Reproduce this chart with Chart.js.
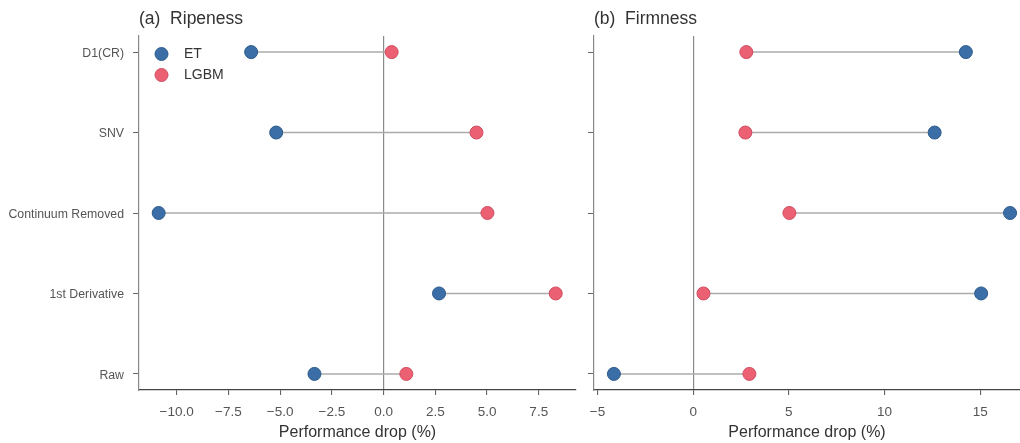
<!DOCTYPE html>
<html><head><meta charset="utf-8">
<script src="https://cdn.jsdelivr.net/npm/chart.js@4.4.1/dist/chart.umd.min.js"></script>
<style>
html,body{margin:0;padding:0;background:#fff;overflow:hidden;width:1020px;height:443px;position:relative}
#c1{position:absolute;left:0;top:0}
#c2{position:absolute;left:580px;top:0}
</style></head><body>
<canvas id="c1" width="580" height="443"></canvas>
<canvas id="c2" width="440" height="443"></canvas>
<script>
const categories = ['D1(CR)', 'SNV', 'Continuum Removed', '1st Derivative', 'Raw'];
const ripenessET   = [-6.40, -5.19, -10.87, 2.68, -3.34];
const ripenessLGBM = [0.39, 4.49, 5.02, 8.32, 1.10];
const firmnessET   = [14.25, 12.62, 16.56, 15.05, -4.14];
const firmnessLGBM = [2.78, 2.73, 5.03, 0.54, 2.94];
const ripenessTicks = [-10, -7.5, -5, -2.5, 0, 2.5, 5, 7.5];
const firmnessTicks = [-5, 0, 5, 10, 15];
const seriesNames = ['ET', 'LGBM'];

const FONT = '"Liberation Sans", Arial, Helvetica, sans-serif';
const ET_FILL = '#3b6ea6', ET_EDGE = '#2c5a8c';
const LG_FILL = '#ec6073', LG_EDGE = '#cf4b5e';

const legendPlugin = {
  id: 'innerLegend',
  afterDatasetsDraw(chart, args, opts) {
    if (!opts.show) return;
    const ctx = chart.ctx, a = chart.chartArea;
    const items = chart.data.datasets.filter(d => d.label);
    ctx.save();
    items.forEach((d, i) => {
      const cx = a.left + 22.5, cy = a.top + 18 + i * 21;
      ctx.beginPath();
      ctx.arc(cx, cy, 6.5, 0, Math.PI * 2);
      ctx.fillStyle = d.backgroundColor; ctx.fill();
      ctx.lineWidth = 1; ctx.strokeStyle = d.borderColor; ctx.stroke();
      ctx.fillStyle = '#333';
      ctx.font = '14px ' + FONT;
      ctx.textBaseline = 'middle';
      ctx.textAlign = 'left';
      ctx.fillText(d.label, a.left + 45, cy + 0.5);
    });
    ctx.restore();
  }
};

function fmtMinus(v, dec) {
  const s = dec ? Math.abs(v).toFixed(dec) : String(Math.abs(v));
  return (v < 0 ? '\u2212' : '') + s;
}

function makeChart(id, title, et, lgbm, xMin, xMax, xTicks, dec, showY, showLegend, yWidth, padRight) {
  const connectors = categories.map((c, i) => ({
    data: [{x: et[i], y: i}, {x: lgbm[i], y: i}],
    showLine: true, borderColor: '#ababab', borderWidth: 1.5,
    pointRadius: 0, pointHoverRadius: 0, order: 5
  }));
  const etDs = {
    label: seriesNames[0], data: et.map((v, i) => ({x: v, y: i})),
    backgroundColor: ET_FILL, borderColor: ET_EDGE, borderWidth: 1,
    pointRadius: 6.5, pointHoverRadius: 6.5, order: 2
  };
  const lgDs = {
    label: seriesNames[1], data: lgbm.map((v, i) => ({x: v, y: i})),
    backgroundColor: LG_FILL, borderColor: LG_EDGE, borderWidth: 1,
    pointRadius: 6.5, pointHoverRadius: 6.5, order: 1
  };
  return new Chart(document.getElementById(id), {
    type: 'scatter',
    data: {datasets: [...connectors, etDs, lgDs]},
    plugins: [legendPlugin],
    options: {
      responsive: false, animation: false,
      layout: {autoPadding: false, padding: {top: 0, right: padRight, left: 0, bottom: 0}},
      plugins: {
        legend: {display: false},
        tooltip: {enabled: false},
        innerLegend: {show: showLegend},
        title: {
          display: true, text: title, align: 'start', fullSize: false,
          color: '#333', font: {family: FONT, size: 17.5, weight: 'normal', lineHeight: 1.2},
          padding: {top: 8.5, bottom: 6.5}
        }
      },
      scales: {
        x: {
          type: 'linear', min: xMin, max: xMax,
          afterBuildTicks: s => { s.ticks = xTicks.map(v => ({value: v})); },
          afterFit: s => { s.height = 53; },
          ticks: {
            color: '#555', font: {family: FONT, size: 13.5}, padding: 9,
            maxRotation: 0, autoSkip: false,
            callback: v => fmtMinus(v, dec)
          },
          grid: {
            drawOnChartArea: true, drawTicks: true, tickLength: 5,
            color: c => (c.tick && c.tick.value === 0) ? '#8a8a8a' : 'rgba(0,0,0,0)',
            lineWidth: 1.2, tickColor: '#555', tickWidth: 1
          },
          border: {display: true, color: '#444', width: 1.2},
          title: {
            display: true, text: 'Performance drop (%)', color: '#333',
            font: {family: FONT, size: 16, lineHeight: 1.2}, padding: {top: 0, bottom: 0.5}
          }
        },
        y: {
          type: 'linear', min: -0.2, max: 4.2, reverse: true,
          afterBuildTicks: s => { s.ticks = categories.map((c, i) => ({value: i})); },
          afterFit: s => { s.width = yWidth; },
          ticks: {
            color: '#555', font: {family: FONT, size: 12.3}, padding: 9,
            autoSkip: false, labelOffset: 1.5,
            callback: v => showY ? categories[v] : ''
          },
          grid: {
            drawOnChartArea: false, drawTicks: true, tickLength: 6,
            tickColor: '#666', tickWidth: 1
          },
          border: {display: true, color: '#888', width: 1.2}
        }
      }
    }
  });
}

makeChart('c1', '(a)  Ripeness', ripenessET, ripenessLGBM, -11.82, 9.3, ripenessTicks, 1, true, true, 139, 4);
makeChart('c2', '(b)  Firmness', firmnessET, firmnessLGBM, -5.18, 17.08, firmnessTicks, 0, false, false, 14, 0);
</script>
</body></html>
